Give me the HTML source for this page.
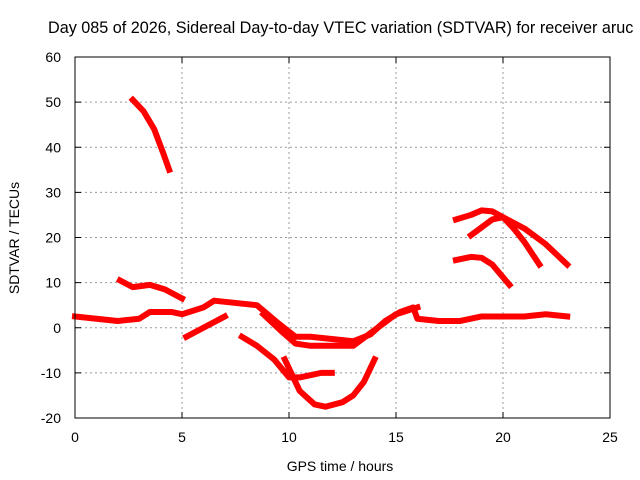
<!DOCTYPE html>
<html><head><meta charset="utf-8"><style>
body{margin:0;background:#fff}
svg{display:block;font-family:"Liberation Sans",Arial,sans-serif}
</style></head><body>
<svg id="chart" width="640" height="480" viewBox="0 0 640 480">
<text x="48" y="33" font-size="16.2" fill="#000">Day 085 of 2026, Sidereal Day-to-day VTEC variation (SDTVAR) for receiver aruc</text>
<g id="grid"></g>
<g id="axes"></g>
<g id="series"></g>
<rect x="75" y="57" width="535" height="361" fill="none" stroke="#000" stroke-width="1"/>
<text x="340" y="471" font-size="14" text-anchor="middle">GPS time / hours</text>
<text transform="translate(19,238) rotate(-90)" font-size="14" text-anchor="middle">SDTVAR / TECUs</text>
</svg>
<script>
const xTicks=[0,5,10,15,20,25];
const yTicks=[-20,-10,0,10,20,30,40,50,60];
const trackAHours=[2.7,3.2,3.7,4.1,4.4];
const trackAValues=[50.5,48,44,39,35];
const trackBHours=[2.1,2.7,3.5,4.2,5.0];
const trackBValues=[10.5,9,9.5,8.5,6.5];
const trackCHours=[0,1,2,3,3.5,4.5,5,6,6.5,7.5,8.5,9.5,10.3,11,12,13,13.8,14.5,15.2,15.8,16,17,18,19,20,21,22,23];
const trackCValues=[2.5,2,1.5,2,3.5,3.5,3,4.5,6,5.5,5,1,-2,-2,-2.5,-3,-1.5,1.5,3.5,4.5,2,1.5,1.5,2.5,2.5,2.5,3,2.5];
const trackC2Hours=[8.8,9.7,10.3,11,12,13,14,15,16];
const trackC2Values=[3,-1,-3.5,-4,-4,-4,-0.5,3,4.5];
const trackDHours=[5.2,6,7];
const trackDValues=[-2,0,2.5];
const trackEHours=[7.8,8.5,9.3,10,10.5,11,11.5,12];
const trackEValues=[-2,-4,-7,-11,-11,-10.5,-10,-10];
const trackFHours=[9.8,10.5,11.2,11.7,12.5,13,13.5,14];
const trackFValues=[-7,-14,-17,-17.5,-16.5,-15,-12,-7];
const trackGHours=[17.8,18.5,19,19.5,20,20.5,21,21.7];
const trackGValues=[24,25,26,25.8,24.5,22,19,14];
const trackHHours=[18.5,19.5,20,21,22,23];
const trackHValues=[20.5,24,24.5,22,18.5,14];
const trackIHours=[17.8,18.5,19,19.5,20.3];
const trackIValues=[15,15.7,15.5,14,9.5];

const X0=75,X1=610,Y0=418,Y1=57;
function xs(v){return X0+(v-0)/(25-0)*(X1-X0);}
function ys(v){return Y0-(v+20)/80*(Y0-Y1);}
const NS="http://www.w3.org/2000/svg";
const grid=document.getElementById('grid'),axes=document.getElementById('axes'),series=document.getElementById('series');
function mk(t,a,p){const e=document.createElementNS(NS,t);for(const k in a)e.setAttribute(k,a[k]);p.appendChild(e);return e;}
xTicks.forEach(t=>{
  const x=xs(t);
  if(t>0&&t<25){const g=mk('line',{x1:x,x2:x,y1:Y1,y2:Y0,stroke:'#999','stroke-dasharray':'2,3'},grid);
  
  }
  mk('line',{x1:x,x2:x,y1:Y0,y2:Y0-6,stroke:'#000'},axes);
  mk('line',{x1:x,x2:x,y1:Y1,y2:Y1+6,stroke:'#000'},axes);
  const l=mk('text',{x:x,y:Y0+24,'font-size':14,'text-anchor':'middle'},axes);
  l.textContent=t;
  
  
});
yTicks.forEach(t=>{
  const y=ys(t);
  if(t>-20&&t<60){const g=mk('line',{x1:X0,x2:X1,y1:y,y2:y,stroke:'#999','stroke-dasharray':'2,3'},grid);
  
  }
  mk('line',{x1:X0,x2:X0+6,y1:y,y2:y,stroke:'#000'},axes);
  mk('line',{x1:X1,x2:X1-6,y1:y,y2:y,stroke:'#000'},axes);
  const l=mk('text',{x:X0-14,y:y+5,'font-size':14,'text-anchor':'end'},axes);
  l.textContent=t;
  
  
});
const tracks=[[trackAHours,trackAValues],[trackBHours,trackBValues],[trackCHours,trackCValues],[trackC2Hours,trackC2Values],[trackDHours,trackDValues],[trackEHours,trackEValues],[trackFHours,trackFValues],[trackGHours,trackGValues],[trackHHours,trackHValues],[trackIHours,trackIValues]];
tracks.forEach(([h,v])=>{
  const pts=h.map((t,i)=>xs(t)+','+ys(v[i])).join(' ');
  const p=mk('polyline',{points:pts,fill:'none',stroke:'#ff0000','stroke-width':6,'stroke-linejoin':'round','stroke-linecap':'square'},series);
  
  
});
</script>
</body></html>
